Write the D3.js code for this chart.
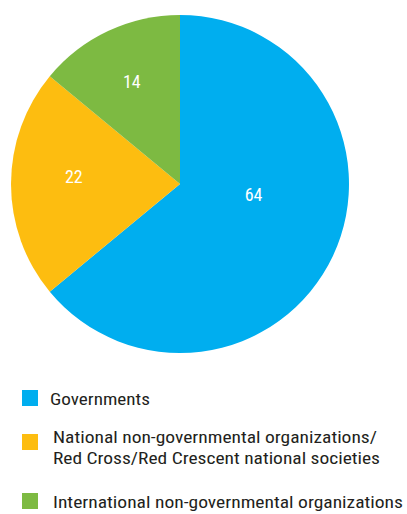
<!DOCTYPE html>
<html><head><meta charset="utf-8">
<script src="https://cdn.jsdelivr.net/npm/d3@7"></script>
<style>body{margin:0;background:#fff}</style>
</head><body>
<svg id="c" width="407" height="514"></svg>
<script>
const categories = ["Governments", "National non-governmental organizations/", "Red Cross/Red Crescent national societies", "International non-governmental organizations"];
const legendGroups = [[0], [1, 2], [3]];
const values = [64, 22, 14];
const colors = ["#00aeef", "#fdbd10", "#7dba42"];
const labelRadiusFrac = [0.44, 0.63, 0.67];
const labelAngleShift = [-17, 4, 0];

const svg = d3.select("#c");
const font = "'Liberation Sans Narrow', 'Arial Narrow', 'Roboto Condensed', sans-serif";
const cx = 180, cy = 184, r = 169;
const pie = d3.pie().sort(null).value(d => d)(values);
const arc = d3.arc().innerRadius(0).outerRadius(r);
const g = svg.append("g").attr("transform", `translate(${cx},${cy})`);
g.selectAll("path").data(pie).join("path").attr("d", arc).attr("fill", (d, i) => colors[i]);
g.selectAll("text").data(pie).join("text")
  .attr("transform", (d, i) => {
    const a = (d.startAngle + d.endAngle) / 2 + labelAngleShift[i] * Math.PI / 180;
    const rr = r * labelRadiusFrac[i];
    return `translate(${rr * Math.sin(a)},${-rr * Math.cos(a)})`;
  })
  .attr("text-anchor", "middle").attr("dy", "0.36em")
  .attr("fill", "#fff").style("font-family", font).style("font-size", "18px")
  .text(d => d.data);

const legRectY = [390, 434, 493];
const textX = [50, 53, 53, 53];
const textY = [405, 443, 464, 508];
const textW = [100, 324, 327, 350];
const lg = svg.append("g");
legendGroups.forEach((grp, i) => {
  lg.append("rect").attr("x", 22).attr("y", legRectY[i]).attr("width", 16).attr("height", 16).attr("fill", colors[i]);
});
categories.forEach((c, k) => {
  lg.append("text").attr("x", textX[k]).attr("y", textY[k])
    .attr("textLength", textW[k]).attr("lengthAdjust", "spacingAndGlyphs")
    .attr("fill", "#231f20").style("font-family", font).style("font-size", "17px")
    .text(c);
});
</script>
</body></html>
